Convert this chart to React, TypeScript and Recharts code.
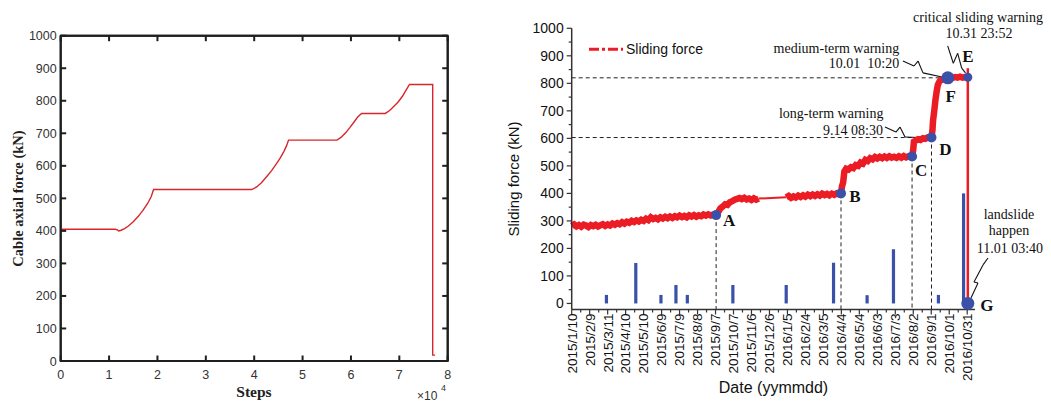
import React from 'react';
import { LineChart, ComposedChart, Line, Bar, XAxis, YAxis, ReferenceLine, ReferenceDot, ReferenceArea } from 'recharts';

const SANS = "'Liberation Sans', Arial, Helvetica, sans-serif";
const SERIF = "'Liberation Serif', 'Times New Roman', Times, serif";
const RED = '#ec1c24';
const BLUE = '#3b51a8';
const CABLE_RED = '#d8262c';

// ---------------- Left panel: cable axial force vs steps (x 10^4) ----------------
const cableSteps = [0, 1.13, 1.17, 1.2, 1.25, 1.32, 1.4, 1.5, 1.6, 1.7, 1.8, 1.87, 1.92, 3.95, 4.05, 4.15, 4.26, 4.36, 4.44, 4.53, 4.61, 4.67, 4.71, 5.71, 5.8, 5.9, 5.98, 6.06, 6.14, 6.22, 6.71, 6.8, 6.9, 6.98, 7.06, 7.14, 7.21, 7.69, 7.69, 7.74];
const cableForce = [405, 405, 403, 400, 402, 407, 415, 428, 444, 463, 485, 505, 527, 527, 535, 548, 567, 585, 602, 622, 643, 662, 679, 679, 688, 703, 718, 734, 750, 761, 761, 770, 785, 797, 813, 833, 850, 850, 18, 18];
const stepTicks = [0, 1, 2, 3, 4, 5, 6, 7, 8];
const cableTicks = [0, 100, 200, 300, 400, 500, 600, 700, 800, 900, 1000];

// ---------------- Right panel: sliding force vs date ----------------
// x value = days since 2015/1/10
const dateTickLabels = ['2015/1/10', '2015/2/9', '2015/3/11', '2015/4/10', '2015/5/10', '2015/6/9', '2015/7/9', '2015/8/8', '2015/9/7', '2015/10/7', '2015/11/6', '2015/12/6', '2016/1/5', '2016/2/4', '2016/3/5', '2016/4/4', '2016/5/4', '2016/6/3', '2016/7/3', '2016/8/2', '2016/9/1', '2016/10/1', '2016/10/31'];
const forceTicks = [0, 50, 100, 150, 200, 250, 300, 350, 400, 450, 500, 550, 600, 650, 700, 750, 800, 850, 900, 950, 1000];

const slidingEarly: [number, number][] = [
  [0, 282], [4, 287], [8, 280], [12, 285], [16, 279], [20, 286], [24, 283], [28, 278], [32, 285], [36, 281],
  [40, 286], [44, 280], [48, 284], [52, 288], [56, 282], [60, 287], [64, 283], [68, 290], [72, 286], [76, 292],
  [80, 288], [84, 295], [88, 290], [92, 297], [96, 293], [100, 300], [104, 296], [108, 302], [112, 298], [116, 304],
  [120, 300], [124, 308], [128, 303], [132, 313], [136, 307], [140, 311], [144, 306], [148, 313], [152, 309], [156, 315],
  [160, 310], [164, 316], [168, 311], [172, 317], [176, 313], [180, 319], [184, 314], [188, 318], [192, 313], [196, 320],
  [200, 316], [204, 321], [208, 315], [212, 320], [216, 317], [220, 323], [224, 319], [228, 324], [232, 320], [236, 323],
  [240, 321], [244, 330], [248, 345], [252, 352], [256, 360], [260, 358], [264, 368], [268, 372], [272, 377], [276, 380],
  [280, 383], [284, 379], [288, 384], [292, 378], [296, 381], [300, 376], [304, 382], [308, 377], [312, 381],
];
const slidingGap: [number, number][] = [[312, 381], [358, 386]];
const slidingLate: [number, number][] = [
  [358, 386], [362, 391], [366, 384], [370, 389], [374, 385], [378, 392], [382, 387], [386, 393], [390, 388], [394, 395],
  [398, 390], [402, 396], [406, 391], [410, 397], [414, 392], [418, 399], [422, 394], [426, 398], [430, 393], [434, 399],
  [438, 395], [442, 400], [446, 396], [449.4, 400], [451, 425], [453, 440], [455, 480], [458, 490], [462, 487], [466, 495],
  [470, 492], [474, 503], [478, 500], [482, 512], [486, 508], [490, 522], [494, 518], [498, 528], [502, 524], [506, 532],
  [510, 527], [514, 533], [518, 528], [522, 534], [526, 529], [530, 535], [534, 530], [538, 533], [542, 529], [546, 535],
  [550, 530], [554, 536], [558, 531], [562, 535], [566, 532], [568, 534], [570, 560], [571, 588], [574, 592], [578, 597],
  [582, 594], [586, 600], [590, 598], [594, 603], [598, 601], [600.4, 603], [602, 630], [603, 665], [605, 700], [607, 740],
  [609, 770], [611, 795], [614, 808], [618, 814], [622, 818], [627.6, 820], [632, 822], [636, 820], [640, 823], [644, 821],
  [648, 824], [652, 821], [656, 823], [660, 822], [661, 822],
];
const slidingDrop: [number, number][] = [[661, 855], [661, 0]];

const rainDays = [58, 107, 149, 174, 193, 269, 358, 437, 493, 537, 612, 654];
const rainValues = [31, 147, 31, 67, 31, 67, 67, 148, 30, 197, 31, 400];

const markerNames = ['A', 'B', 'C', 'D', 'F', 'E', 'G'];
const markerDays = [241, 449.4, 568, 600.4, 627.6, 661, 661];
const markerForce = [321, 400, 534, 603, 820, 822, 0];

// annotation texts (positions in data units)
const noteTexts = ['critical sliding warning', '10.31 23:52', 'medium-term warning', '10.01\u00a0\u00a010:20', 'long-term warning', '9.14 08:30', 'landslide', 'happen', '11.01 03:40'];
const noteDays = [678, 679.6, 546.5, 546.5, 520.3, 519.4, 729.7, 729.7, 731.3];
const noteForce = [1040, 982, 930, 873, 691, 632, 327, 267, 200];
const noteAnchor = ['middle', 'middle', 'end', 'end', 'end', 'end', 'middle', 'middle', 'middle'];

const leaders: [number, number][][] = [
  [[552.8, 881], [571.2, 863], [577.9, 881], [586.2, 838], [617.9, 823]],
  [[522.8, 641], [541.1, 623], [547.8, 641], [556.2, 605], [591.2, 602]],
  [[627.4, 936], [636.8, 873], [644.1, 909], [650.8, 855], [657.1, 838]],
  [[666.3, 20], [678, 74], [671.3, 78], [686.4, 140], [694.7, 165]],
];

// ---- derived tables ----
const cableData = cableSteps.map((s, i) => ({ s, f: cableForce[i] }));
const dateTickDays = dateTickLabels.map((_, i) => i * 30);
const minorDays = dateTickLabels.slice(1).map((_, i) => i * 30 + 15);
const xTicks = [...dateTickDays, ...minorDays].sort((a, b) => a - b);
const toPts = (arr: [number, number][]) => arr.map(([day, v]) => ({ day, v }));
const rainData = rainDays.map((day, i) => ({ day, rain: rainValues[i] }));
const markerData = markerDays.map((day, i) => ({ day, v: markerForce[i] }));

const markerStyle = [
  { r: 5, dx: 13, dy: 5 },
  { r: 5, dx: 14, dy: 2 },
  { r: 5, dx: 9, dy: 13 },
  { r: 5, dx: 14, dy: 11 },
  { r: 6.5, dx: 3, dy: 18 },
  { r: 4.5, dx: 0, dy: -21 },
  { r: 6.5, dx: 19, dy: 1 },
];

// ---- left panel frame ticks (inward, matlab style) ----
const FRAME = '#1e1e1e';
const TL = 5.5;
const TW = 2;
const LeftBottomTick = (p: any) => (
  <g>
    <line x1={p.x} x2={p.x} y1={p.y} y2={p.y - TL} stroke={FRAME} strokeWidth={TW} />
    <text x={p.x} y={p.y + 18} textAnchor="middle" fontFamily={SANS} fontSize={12.5} fill="#333">{p.payload.value}</text>
  </g>
);
const LeftTopTick = (p: any) => <line x1={p.x} x2={p.x} y1={p.y} y2={p.y + TL} stroke={FRAME} strokeWidth={TW} />;
const LeftLeftTick = (p: any) => (
  <g>
    <line x1={p.x} x2={p.x + TL} y1={p.y} y2={p.y} stroke={FRAME} strokeWidth={TW} />
    <text x={p.x - 4} y={p.y} dy="0.36em" textAnchor="end" fontFamily={SANS} fontSize={12.5} fill="#333">{p.payload.value}</text>
  </g>
);
const LeftRightTick = (p: any) => <line x1={p.x} x2={p.x - TL} y1={p.y} y2={p.y} stroke={FRAME} strokeWidth={TW} />;

const RightXTick = (p: any) => {
  const idx = dateTickDays.indexOf(p.payload.value);
  const major = idx >= 0;
  return (
    <g>
      <line x1={p.x} x2={p.x} y1={p.y} y2={p.y + (major ? 5 : 3)} stroke="#333" strokeWidth={1.2} />
      {major && (
        <text x={p.x} y={p.y + 4} transform={`rotate(-90 ${p.x} ${p.y + 4})`} dy="0.36em" textAnchor="end" fontFamily={SANS} fontSize={13.5} fill="#111">
          {dateTickLabels[idx]}
        </text>
      )}
    </g>
  );
};
const RightYTick = (p: any) => {
  const major = p.payload.value % 100 === 0;
  return (
    <g>
      <line x1={p.x} x2={p.x - (major ? 5 : 3)} y1={p.y} y2={p.y} stroke="#333" strokeWidth={1.2} />
      {major && (
        <text x={p.x - 8} y={p.y} dy="0.36em" textAnchor="end" fontFamily={SANS} fontSize={14} fill="#111">{p.payload.value}</text>
      )}
    </g>
  );
};

const renderMarker = (p: any) => {
  const i = p.index;
  const st = markerStyle[i];
  return (
    <g key={`mk-${i}`}>
      <circle cx={p.cx} cy={p.cy} r={st.r} fill={BLUE} />
      <text x={p.cx + st.dx} y={p.cy + st.dy} dy="0.36em" textAnchor="middle" fontFamily={SERIF} fontWeight="bold" fontSize={17} fill="#111">
        {markerNames[i]}
      </text>
    </g>
  );
};

const RainBar = (p: any) => {
  const cx = p.x + p.width / 2;
  return <rect x={cx - 1.6} y={p.y} width={3.2} height={Math.max(0, p.height)} fill={BLUE} />;
};

export default function App() {
  const dash = '4 3';
  const frameLine = { stroke: FRAME, strokeWidth: 2 };
  return (
    <div style={{ position: 'fixed', left: 0, top: 0, width: 1051, height: 403, background: '#fff', overflow: 'hidden' }}>
      {/* Left panel */}
      <LineChart width={500} height={403} data={cableData} margin={{ top: 34.7, right: 51.3, bottom: 0, left: 0 }} style={{ position: 'absolute', left: 0, top: 0 }}>
        <XAxis xAxisId="b" dataKey="s" type="number" domain={[0, 8]} ticks={stepTicks} interval={0} height={42} tickSize={0} tickMargin={0} tickLine={false} axisLine={frameLine} tick={LeftBottomTick} />
        <XAxis xAxisId="t" orientation="top" dataKey="s" type="number" domain={[0, 8]} ticks={stepTicks} interval={0} height={1} tickSize={0} tickMargin={0} tickLine={false} axisLine={frameLine} tick={LeftTopTick} />
        <YAxis yAxisId="l" type="number" domain={[0, 1000]} ticks={cableTicks} interval={0} width={60.7} tickSize={0} tickMargin={0} tickLine={false} axisLine={frameLine} tick={LeftLeftTick} />
        <YAxis yAxisId="r" orientation="right" type="number" domain={[0, 1000]} ticks={cableTicks} interval={0} width={1} tickSize={0} tickMargin={0} tickLine={false} axisLine={frameLine} tick={LeftRightTick} />
        <ReferenceArea xAxisId="b" yAxisId="l" x1={0} x2={8} y1={0} y2={1000} fill="none" stroke={FRAME} strokeWidth={2} ifOverflow="visible" />
        <Line xAxisId="t" yAxisId="l" type="linear" dataKey="f" stroke="none" dot={false} isAnimationActive={false} />
        <Line xAxisId="b" yAxisId="r" type="linear" dataKey="f" stroke="none" dot={false} isAnimationActive={false} />
        <Line xAxisId="b" yAxisId="l" type="linear" dataKey="f" stroke={CABLE_RED} strokeWidth={1.4} dot={false} isAnimationActive={false} />
      </LineChart>

      {/* Right panel */}
      <ComposedChart width={551} height={403} data={rainData} margin={{ top: 28.3, right: 76, bottom: 0, left: 0 }} style={{ position: 'absolute', left: 500, top: 0 }}>
        <XAxis dataKey="day" type="number" domain={[0, 673]} ticks={xTicks} interval={0} height={93.5} tickSize={0} tickMargin={0} tickLine={false} axisLine={{ stroke: '#333', strokeWidth: 1.5 }} tick={RightXTick} />
        <YAxis type="number" domain={[-22, 1000]} ticks={forceTicks} interval={0} width={71.7} tickSize={0} tickMargin={0} tickLine={false} axisLine={{ stroke: '#333', strokeWidth: 1.5 }} tick={RightYTick} />
        <Bar dataKey="rain" fill={BLUE} barSize={3} shape={RainBar} isAnimationActive={false} />

        <ReferenceLine segment={[{ x: 0, y: markerForce[4] }, { x: markerDays[4], y: markerForce[4] }]} stroke="#222" strokeDasharray={dash} ifOverflow="visible" />
        <ReferenceLine segment={[{ x: 0, y: markerForce[3] }, { x: markerDays[3], y: markerForce[3] }]} stroke="#222" strokeDasharray={dash} ifOverflow="visible" />
        {[0, 1, 2, 3].map((i) => (
          <ReferenceLine key={`vd-${i}`} segment={[{ x: markerDays[i], y: markerForce[i] }, { x: markerDays[i], y: -22 }]} stroke="#222" strokeDasharray={dash} ifOverflow="visible" />
        ))}

        {leaders.map((pts, li) =>
          pts.slice(1).map((pt, k) => (
            <ReferenceLine key={`ld-${li}-${k}`} segment={[{ x: pts[k][0], y: pts[k][1] }, { x: pt[0], y: pt[1] }]} stroke="#111" strokeWidth={1.1} ifOverflow="visible" />
          ))
        )}

        <Line data={toPts(slidingGap)} dataKey="v" type="linear" stroke={RED} strokeWidth={2} dot={false} activeDot={false} isAnimationActive={false} />
        <Line data={toPts(slidingEarly)} dataKey="v" type="linear" stroke={RED} strokeWidth={6.5} dot={false} activeDot={false} isAnimationActive={false} />
        <Line data={toPts(slidingLate)} dataKey="v" type="linear" stroke={RED} strokeWidth={6.5} dot={false} activeDot={false} isAnimationActive={false} />
        <Line data={toPts(slidingDrop)} dataKey="v" type="linear" stroke={RED} strokeWidth={2.5} dot={false} activeDot={false} isAnimationActive={false} />
        <Line data={markerData} dataKey="v" type="linear" stroke="none" dot={renderMarker} activeDot={false} isAnimationActive={false} />

        {noteTexts.map((t, i) => (
          <ReferenceDot
            key={`nt-${i}`}
            x={noteDays[i]}
            y={noteForce[i]}
            r={0}
            ifOverflow="visible"
            shape={(p: any) => (
              <text x={p.cx} y={p.cy} dy="0.36em" textAnchor={noteAnchor[i] as any} fontFamily={SERIF} fontSize={14} fill="#111">{t}</text>
            )}
          />
        ))}
      </ComposedChart>

      {/* titles and legend */}
      <svg width={1051} height={403} style={{ position: 'absolute', left: 0, top: 0, pointerEvents: 'none' }}>
        <text x={17.5} y={198.5} transform="rotate(-90 17.5 198.5)" dy="0.36em" textAnchor="middle" fontFamily={SERIF} fontWeight="bold" fontSize={14.5} fill="#222">Cable axial force (kN)</text>
        <text x={254} y={391.7} dy="0.36em" textAnchor="middle" fontFamily={SERIF} fontWeight="bold" fontSize={15.5} fill="#222">Steps</text>
        <text x={417} y={400} fontFamily={SANS} fontSize={12} fill="#333">×10</text>
        <text x={441} y={391} fontFamily={SANS} fontSize={9} fill="#333">4</text>

        <text x={514} y={179} transform="rotate(-90 514 179)" dy="0.36em" textAnchor="middle" fontFamily={SANS} fontSize={15} fill="#111">Sliding force (kN)</text>
        <text x={773.5} y={387.3} dy="0.36em" textAnchor="middle" fontFamily={SANS} fontSize={16} fill="#111">Date (yymmdd)</text>

        <line x1={589} y1={49.3} x2={623} y2={49.3} stroke={RED} strokeWidth={3} strokeDasharray="10 3 3 3" />
        <text x={626} y={49} dy="0.36em" fontFamily={SANS} fontSize={14} fill="#111">Sliding force</text>
      </svg>
    </div>
  );
}
